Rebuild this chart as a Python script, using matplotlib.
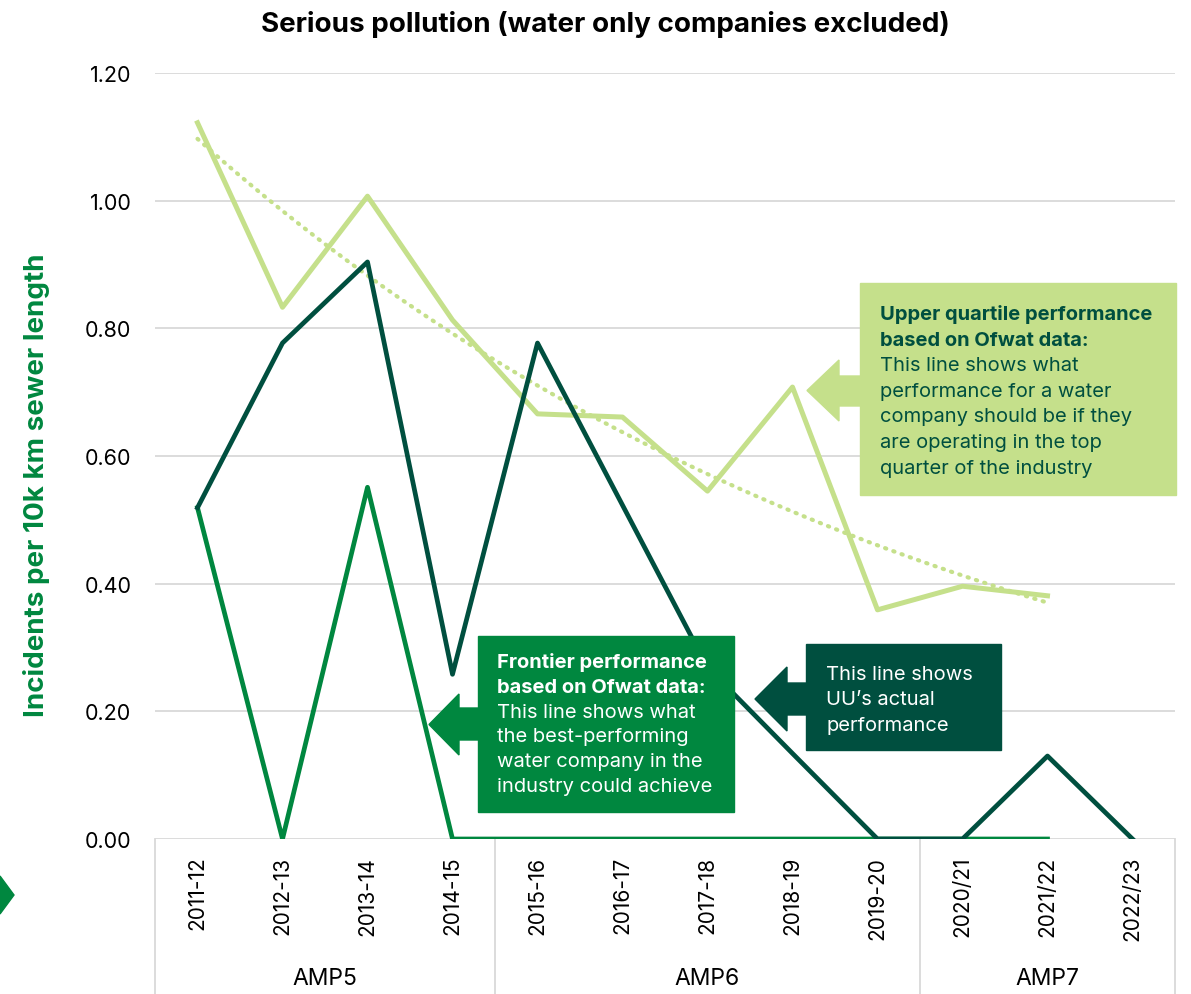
import numpy as np
import matplotlib
matplotlib.use("Agg")
import matplotlib.pyplot as plt
from matplotlib.patches import Polygon, Rectangle

# ---------------- data ----------------
years = ["2011-12", "2012-13", "2013-14", "2014-15", "2015-16", "2016-17",
         "2017-18", "2018-19", "2019-20", "2020/21", "2021/22", "2022/23"]
upper_quartile = [1.122, 0.833, 1.007, 0.813, 0.666, 0.661, 0.545, 0.708,
                  0.359, 0.396, 0.381, None]
uu_actual = [0.519, 0.777, 0.904, 0.258, 0.777, 0.523, 0.269, 0.134,
             0.0, 0.0, 0.130, 0.0]
frontier = [0.519, 0.0, 0.551, 0.0, 0.0, 0.0, 0.0, 0.0, 0.0, 0.0, 0.0, None]
groups = ["AMP5", "AMP6", "AMP7"]
group_sizes = [4, 5, 3]
yticks = [0.0, 0.2, 0.4, 0.6, 0.8, 1.0, 1.2]

LIGHT = "#C5E08B"
DARK = "#004F3F"
MID = "#00873F"
GRID = "#D9D9D9"

plt.rcParams['font.family'] = ['Inter', 'DejaVu Sans']

W, H = 1191, 995
fig = plt.figure(figsize=(W / 100, H / 100), dpi=100)

def fx(px):
    return px / W

def fy(py):
    return 1 - py / H

ax = fig.add_axes([fx(155), fy(840), fx(1175) - fx(155), fy(74) - fy(840)])
x = np.arange(len(years))

def to_arr(v):
    return np.array([np.nan if a is None else a for a in v], dtype=float)

uq = to_arr(upper_quartile)
uu = to_arr(uu_actual)
fr = to_arr(frontier)

# exponential trendline fitted to upper quartile values
mask = ~np.isnan(uq)
b, a = np.polyfit(x[mask], np.log(uq[mask]), 1)
xt = np.linspace(x[mask][0], x[mask][-1], 200)
ax.plot(xt, np.exp(a + b * xt), color=LIGHT, lw=3.0, ls=(0, (0.3, 1.8)),
        dash_capstyle='round', zorder=3)

ax.plot(x, uq, color=LIGHT, lw=3.6, zorder=4)
ax.plot(x, fr, color=MID, lw=3.4, zorder=5)
ax.plot(x, uu, color=DARK, lw=3.4, zorder=6)

ax.set_xlim(-0.5, len(years) - 0.5)
ax.set_ylim(0, 1.2)
ax.set_yticks(yticks)
ax.set_yticklabels([f"{v:.2f}" for v in yticks])
ax.yaxis.grid(True, color=GRID, lw=1.3, zorder=0)
ax.set_axisbelow(True)
for s in ax.spines.values():
    s.set_visible(False)
ax.set_xticks(x)
ax.set_xticklabels(years, rotation=90, fontsize=15, va='top', ha='center')
ax.tick_params(axis='x', length=0, pad=12)
ax.tick_params(axis='y', length=0, pad=17, labelsize=15.5)

# category group separators and labels
trans = ax.get_xaxis_transform()
bounds = np.concatenate([[0], np.cumsum(group_sizes)]) - 0.5
for bx in bounds:
    ax.plot([bx, bx], [0, -0.205], color=GRID, lw=1.3, transform=trans,
            clip_on=False)
for i, g in enumerate(groups):
    cx = (bounds[i] + bounds[i + 1]) / 2
    ax.text(cx, -0.182, g, transform=trans, ha='center', va='center',
            fontsize=16.5)

fig.text(fx(605), fy(25), "Serious pollution (water only companies excluded)",
         ha='center', va='center', fontsize=20, fontweight='bold')
fig.text(fx(37), fy(485), "Incidents per 10k km sewer length", rotation=90,
         ha='center', va='center', fontsize=20, fontweight='bold', color=MID)

# left decorative arrow
fig.patches.append(Polygon([(fx(0), fy(877)), (fx(14), fy(896)), (fx(0), fy(915))],
                           closed=True, transform=fig.transFigure,
                           color=MID, zorder=10))

def callout(x0, y0, x1, y1, color, tip, head_base, head_top, head_bot,
            sh_top, sh_bot):
    fig.patches.append(Rectangle((fx(x0), fy(y1)), fx(x1) - fx(x0),
                                 fy(y0) - fy(y1), transform=fig.transFigure,
                                 color=color, zorder=10))
    tipy = (head_top + head_bot) / 2
    pts = [(tip, tipy), (head_base, head_top), (head_base, sh_top),
           (x0 + 1, sh_top), (x0 + 1, sh_bot), (head_base, sh_bot),
           (head_base, head_bot)]
    fig.patches.append(Polygon([(fx(p), fy(q)) for p, q in pts], closed=True,
                               transform=fig.transFigure, color=color,
                               zorder=10))

callout(860, 284, 1176, 496, LIGHT, 807, 839, 361, 422, 377, 407)
callout(478, 637, 734, 813, MID, 429, 459, 695, 756, 709, 741)
callout(806, 645, 1001, 751, DARK, 755, 787, 668, 732, 684, 716)

def box_text(x0, y0, lines, step, color, nbold):
    for i, t in enumerate(lines):
        fig.text(fx(x0), fy(y0 + i * step), t, ha='left', va='center',
                 fontsize=14.5, color=color,
                 fontweight='bold' if i < nbold else 'normal', zorder=11)

box_text(880, 315, ["Upper quartile performance", "based on Ofwat data:",
                    "This line shows what", "performance for a water",
                    "company should be if they", "are operating in the top",
                    "quarter of the industry"], 25.6, DARK, 2)
box_text(497, 663, ["Frontier performance", "based on Ofwat data:",
                    "This line shows what", "the best-performing",
                    "water company in the", "industry could achieve"],
         24.8, "white", 2)
box_text(826, 675, ["This line shows", "UU\u2019s actual", "performance"],
         25.5, "white", 0)

fig.savefig("out.png", dpi=100)
